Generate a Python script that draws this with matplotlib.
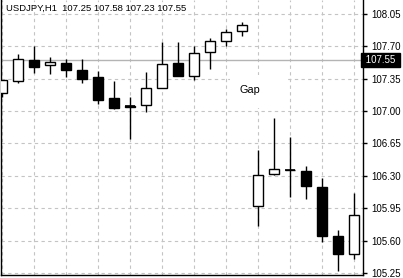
import matplotlib
matplotlib.use("Agg")
import matplotlib.pyplot as plt
from matplotlib.patches import Rectangle
import numpy as np

plt.rcParams['font.family'] = ['Liberation Sans', 'DejaVu Sans']

# ---- data (H1 candles) ----
opens  = [107.20, 107.32, 107.55, 107.495, 107.525, 107.445, 107.37, 107.14, 107.05, 107.065, 107.255, 107.52,
          107.38, 107.636, 107.755, 107.863, 105.97, 106.32, 106.36, 106.35, 106.18, 105.647, 105.46]
highs  = [107.34, 107.62, 107.705, 107.58, 107.56, 107.56, 107.435, 107.33, 107.155, 107.425, 107.75, 107.745,
          107.705, 107.795, 107.885, 107.96, 106.58, 106.925, 106.72, 106.405, 106.28, 105.715, 106.115]
lows   = [107.15, 107.305, 107.415, 107.40, 107.365, 107.305, 107.08, 107.025, 106.70, 106.99, 107.25, 107.38,
          107.335, 107.46, 107.705, 107.815, 105.76, 106.305, 106.07, 106.05, 105.58, 105.275, 105.405]
closes = [107.335, 107.56, 107.48, 107.53, 107.448, 107.35, 107.125, 107.037, 107.045, 107.245, 107.51, 107.383,
          107.625, 107.761, 107.852, 107.928, 106.305, 106.37, 106.36, 106.195, 105.653, 105.46, 105.875]
price_ticks = [108.05, 107.70, 107.35, 107.00, 106.65, 106.30, 105.95, 105.60, 105.25]
current_price = 107.55
title_text = "USDJPY,H1  107.25 107.58 107.23 107.55"
gap_text = "Gap"

W, H = 403, 278
fig = plt.figure(figsize=(W / 100, H / 100), dpi=100)
ax = fig.add_axes([1 / W, 3 / H, 362 / W, 275 / H])

x = np.arange(len(opens))
o = np.array(opens); c = np.array(closes); h = np.array(highs); l = np.array(lows)
up = c >= o
body_w = 0.62

# wicks
ax.vlines(x, l, h, color="black", linewidth=1.0, zorder=3)
# bodies
bottoms = np.minimum(o, c)
heights = np.abs(c - o)
colors = np.where(up, "white", "black")
ax.bar(x, heights, bottom=bottoms, width=body_w, color=colors, edgecolor="black",
       linewidth=1.0, zorder=4)
# doji marks
doji = heights < 0.005
ax.hlines(o[doji], x[doji] - body_w / 2, x[doji] + body_w / 2, color="black", linewidth=1.2, zorder=5)

# grid
for t in price_ticks:
    ax.axhline(t, color="#c4c4c4", linestyle=(0, (3, 3)), linewidth=0.8, zorder=1)
for gx in range(0, len(opens), 2):
    ax.axvline(gx, color="#c4c4c4", linestyle=(0, (3, 3)), linewidth=0.8, zorder=1)

# current price line
ax.axhline(current_price, color="#b4b4b4", linewidth=1.0, zorder=2)

ax.set_xlim(-0.0625, 22.5625)
ax.set_ylim(105.228, 108.201)

ax.spines["top"].set_visible(False)
for s in ["left", "bottom", "right"]:
    ax.spines[s].set_color("black")
    ax.spines[s].set_linewidth(1.0)

ax.set_xticks([])
ax.yaxis.tick_right()
ax.set_yticks(price_ticks)
ax.set_yticklabels([f"{t:.2f}" for t in price_ticks])
ax.tick_params(axis="y", direction="out", length=3, width=1, pad=3, labelsize=7, colors="black")

# current price tag
ax.text(1.0, current_price, f" {current_price:.2f} ", transform=ax.get_yaxis_transform(),
        ha="left", va="center", fontsize=7, color="white",
        bbox=dict(boxstyle="square,pad=0.2", facecolor="black", edgecolor="black"), zorder=10,
        clip_on=False)

# title
fig.text(6 / W, 1 - 8 / H, title_text, ha="left", va="center", fontsize=6.8, color="black")

# Gap label with white background block
ax.add_patch(Rectangle((14.25, 107.034), 3.56, 0.356, facecolor="white", edgecolor="none", zorder=2.5))
ax.text(15.5, 107.23, gap_text, ha="center", va="center", fontsize=7.8, color="black", zorder=6)

fig.savefig("out.png", dpi=100)
